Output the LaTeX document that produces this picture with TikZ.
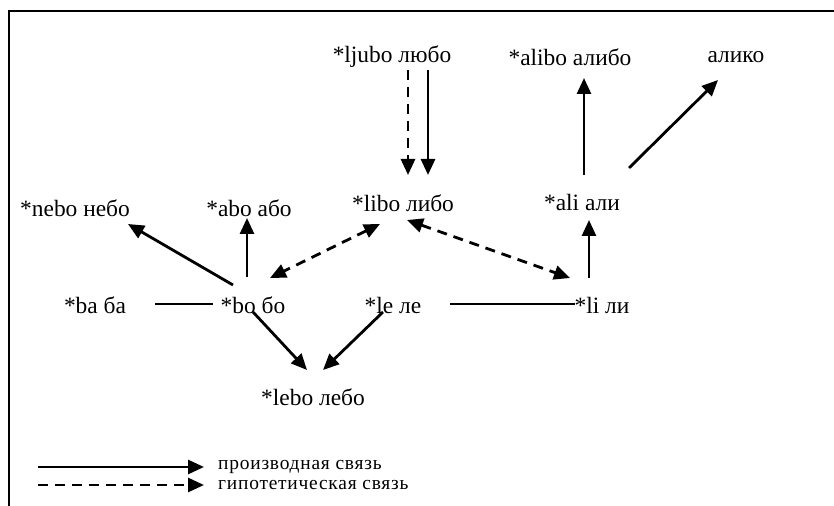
\documentclass[tikz,border=0pt]{standalone}
\usepackage{fontspec}
\setmainfont{Liberation Serif}
\newfontfamily\legfont[LetterSpace=4]{Liberation Serif}
\usetikzlibrary{arrows.meta}
\begin{document}
\begin{tikzpicture}[x=1bp,y=-1bp,
  word/.style={inner sep=0pt,font=\fontsize{23.5}{26}\selectfont},
  legtext/.style={inner sep=0pt,anchor=west,font=\legfont\fontsize{19.5}{22}\selectfont},
  conn/.style={line width=2.8bp},
  arr/.style={conn,-{Triangle[length=16bp,width=14bp]}},
  darr/.style={arr,dash pattern=on 10bp off 7bp},
  dbl/.style={conn,dash pattern=on 10bp off 7bp,{Triangle[length=16bp,width=14bp]}-{Triangle[length=16bp,width=14bp]}}]
\useasboundingbox (0,0) rectangle (834,506);
\draw[line width=1.3bp] (9,506) -- (9,11) -- (834,11);
% words
\node[word] (ljubo) at (392,57) {*ljubo любо};
\node[word] (alibo) at (570,57) {*alibo алибо};
\node[word] (aliko) at (736,57) {алико};
\node[word] (libo) at (403,203) {*libo либо};
\node[word] (nebo) at (75,208) {*nebo небо};
\node[word] (abo) at (249,208) {*abo або};
\node[word] (ali) at (582,202) {*ali али};
\node[word] (ba) at (95,305) {*ba ба};
\node[word] (bo) at (253,305) {*bo бо};
\node[word] (le) at (393,305) {*le ле};
\node[word] (li) at (602,305) {*li ли};
\node[word] (lebo) at (313,397) {*lebo лебо};
% connectors
\draw[darr] ([shift={(16,13)}]ljubo.center) -- ([shift={(5,-28)}]libo.center);
\draw[arr] ([shift={(36,13)}]ljubo.center) -- ([shift={(25,-28)}]libo.center);
\draw[arr] ([shift={(2,-27)}]ali.center) -- ([shift={(14,21)}]alibo.center);
\draw[arr] ([shift={(47,-34)}]ali.center) -- ([shift={(-18,23)}]aliko.center);
\draw[arr] ([shift={(-20,-20)}]bo.center) -- ([shift={(53,16)}]nebo.center);
\draw[arr] ([shift={(-6,-28)}]bo.center) -- ([shift={(-2,10)}]abo.center);
\draw[dbl] ([shift={(-23,21)}]libo.center) -- ([shift={(17,-27)}]bo.center);
\draw[dbl] ([shift={(4,17)}]libo.center) -- ([shift={(-32,-27)}]li.center);
\draw[arr] ([shift={(-13,-27)}]li.center) -- ([shift={(7,18)}]ali.center);
\draw[conn] ([shift={(60,-1)}]ba.center) -- ([shift={(-40,-1)}]bo.center);
\draw[conn] ([shift={(57,-1)}]le.center) -- ([shift={(-27,-1)}]li.center);
\draw[arr] ([shift={(0,7)}]bo.center) -- ([shift={(-6,-27)}]lebo.center);
\draw[arr] ([shift={(-10,7)}]le.center) -- ([shift={(10,-27)}]lebo.center);
% legend
\node[legtext] (l1) at (218,467) {производная связь};
\node[legtext] (l2) at (218,485) {гипотетическая связь};
\coordinate (s1) at (38,467);
\coordinate (s2) at (38,485);
\draw[arr] (s1) -- ([xshift=-14bp]l1.west);
\draw[darr] (s2) -- ([xshift=-14bp]l2.west);
\end{tikzpicture}
\end{document}
